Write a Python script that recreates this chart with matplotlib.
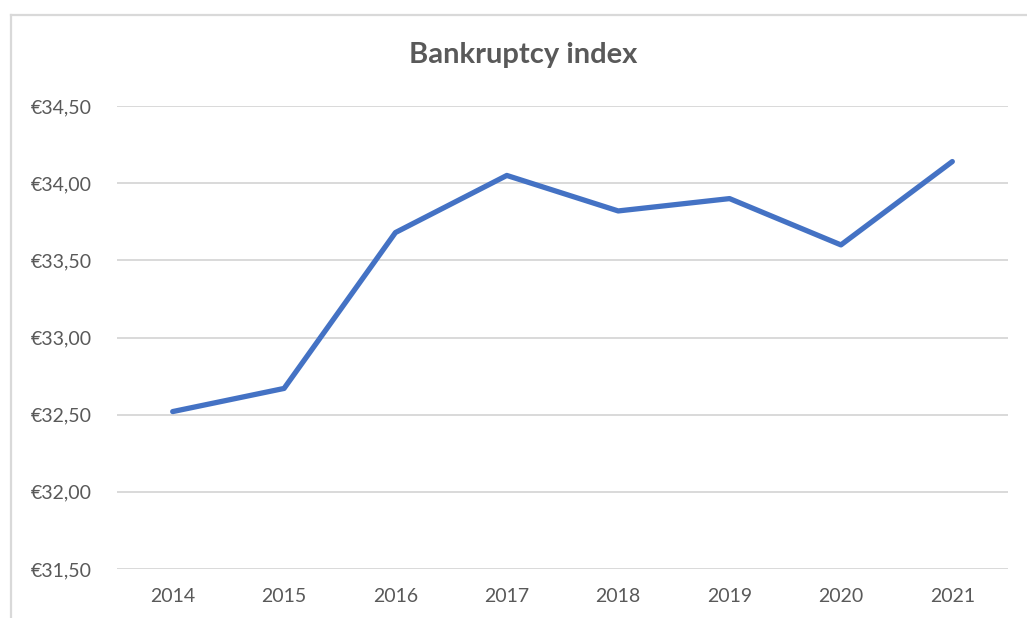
import matplotlib
matplotlib.use("Agg")
import matplotlib.pyplot as plt
from matplotlib.lines import Line2D
from matplotlib.ticker import FuncFormatter

years = ["2014", "2015", "2016", "2017", "2018", "2019", "2020", "2021"]
values = [32.52, 32.67, 33.68, 34.05, 33.82, 33.90, 33.60, 34.14]
yticks = [31.5, 32.0, 32.5, 33.0, 33.5, 34.0, 34.5]
title = "Bankruptcy index"

plt.rcParams['font.family'] = ['Lato', 'DejaVu Sans']
W, H = 1027, 618
fig = plt.figure(figsize=(W / 100, H / 100), dpi=100)
fig.patch.set_facecolor("white")
ax = fig.add_axes([117 / W, 1 - 569 / H, (1008 - 117) / W, (569 - 106) / H])

x = list(range(len(years)))
ax.plot(x, values, color="#4472C4", linewidth=3.8, solid_capstyle="round", solid_joinstyle="round", zorder=3)
ax.set_xlim(-0.5, len(years) - 0.5)
ax.set_ylim(yticks[0], yticks[-1])
ax.set_yticks(yticks)
ax.yaxis.set_major_formatter(FuncFormatter(lambda v, p: "€" + f"{v:.2f}".replace(".", ",")))
ax.set_xticks(x)
ax.set_xticklabels(years)
ax.grid(axis="y", color="#d9d9d9", linewidth=1.4)
ax.set_axisbelow(True)
for s in ax.spines.values():
    s.set_visible(False)
ax.tick_params(axis="both", length=0, labelsize=14, labelcolor="#595959")
ax.tick_params(axis="y", pad=18)
ax.tick_params(axis="x", pad=14)

fig.text(523 / W, 1 - 55 / H, title, ha="center", va="center", fontsize=21,
         fontweight="bold", color="#595959")

# chart border
fig.add_artist(Line2D([11 / W, 11 / W], [0, 1 - 15 / H], transform=fig.transFigure,
                      color="#d9d9d9", linewidth=1.6))
fig.add_artist(Line2D([11 / W, 1], [1 - 15 / H, 1 - 15 / H], transform=fig.transFigure,
                      color="#d9d9d9", linewidth=1.6))

fig.savefig("out.png", dpi=100)
